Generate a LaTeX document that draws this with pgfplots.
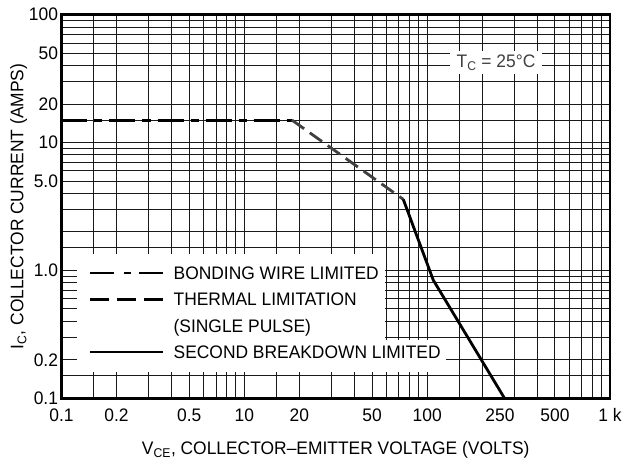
\documentclass[border=0pt]{standalone}
\usepackage{fontspec}
\setmainfont{Liberation Sans}[FakeStretch=0.96]
\usepackage{pgfplots}
\pgfplotsset{compat=1.18}

\begin{document}
\begin{tikzpicture}
\begin{loglogaxis}[
    name=ax,
    scale only axis,
    width=548.5bp, height=383.6bp,
    font=\fontsize{18.2}{22}\selectfont,
    xmin=1, xmax=1000, ymin=0.1, ymax=100,
    xtick={1,2,5,10,20,50,100,250,500,1000},
    xticklabels={0.1,0.2,0.5,10,20,50,100,250,500,1 k},
    ytick={0.1,0.2,1,5,10,20,50,100},
    yticklabels={0.1,0.2,1.0,5.0,10,20,50,100},
    minor xtick={1.5,2,3,4,5,6,7,8,9,10,15,20,30,40,50,60,70,80,90,100,150,200,300,400,500,600,700,800,900},
    minor ytick={0.15,0.2,0.3,0.4,0.5,0.6,0.7,0.8,0.9,1,1.5,2,3,4,5,6,7,8,9,10,15,20,30,40,50,60,70,80,90},
    grid=minor,
    minor grid style={black!90, line width=1bp},
    major tick length=0pt, minor tick length=0pt,
    axis line style={line width=2.6bp},
    /pgf/number format/assume math mode=true,
    xticklabel style={yshift=-7bp},
    xlabel={V\textsubscript{CE}, COLLECTOR--EMITTER VOLTAGE (VOLTS)},
    ylabel={I\textsubscript{C}, COLLECTOR CURRENT (AMPS)},
    xlabel style={at={(axis description cs:0.5,-0.146)}, anchor=base},
    ylabel style={at={(axis description cs:-0.0693,0.5)}, anchor=base},
    legend image code/.code={\draw[#1] (0bp,0bp) -- (73bp,0bp);},
    legend cell align=left,
    legend style={at={(rel axis cs:0.0501,0.3436)}, anchor=north west,
        draw=none, fill=none, inner sep=0pt, column sep=9bp, row sep=13.3bp,
        font=\fontsize{18.2}{22}\selectfont,
        nodes={inner sep=0pt, text height=13bp, text depth=0pt}},
]
% white patches behind the legend
\fill[white] (rel axis cs:0.0283,0.152) rectangle (rel axis cs:0.590,0.376);
\fill[white] (rel axis cs:0.0283,0.0686) rectangle (rel axis cs:0.701,0.1525);

% bonding wire limited
\addplot[forget plot, line width=3bp, black, dash pattern=on 26bp off 7bp on 8bp off 7bp]
  coordinates {(1,15) (18.2,15)};
% thermal limitation
\addplot[forget plot, line width=2.8bp, black!75, dash pattern=on 15bp off 7bp]
  coordinates {(18.2,15) (74,3.6)};
% second breakdown limited
\addplot[forget plot, line width=2.8bp, black, line join=round]
  coordinates {(74,3.6) (108,0.84) (265,0.1)};

\node[fill=white, inner xsep=7bp, inner ysep=4bp, text=black!75]
  at (axis cs:238,42.3) {T\textsubscript{C} = 25°C};

\addlegendimage{line width=2.5bp, black, dash pattern=on 24bp off 10bp on 7bp off 8bp}
\addlegendentry{BONDING WIRE LIMITED}
\addlegendimage{line width=2.5bp, black, dash pattern=on 19bp off 8bp}
\addlegendentry{THERMAL LIMITATION}
\addlegendimage{empty legend}
\addlegendentry{(SINGLE PULSE)}
\addlegendimage{line width=2.5bp, black}
\addlegendentry{SECOND BREAKDOWN LIMITED}
\end{loglogaxis}
\pgfresetboundingbox
\path[use as bounding box] ([shift={(-61.5bp,-60.7bp)}]ax.south west)
  rectangle ([shift={(14bp,14.7bp)}]ax.north east);
\end{tikzpicture}
\end{document}
